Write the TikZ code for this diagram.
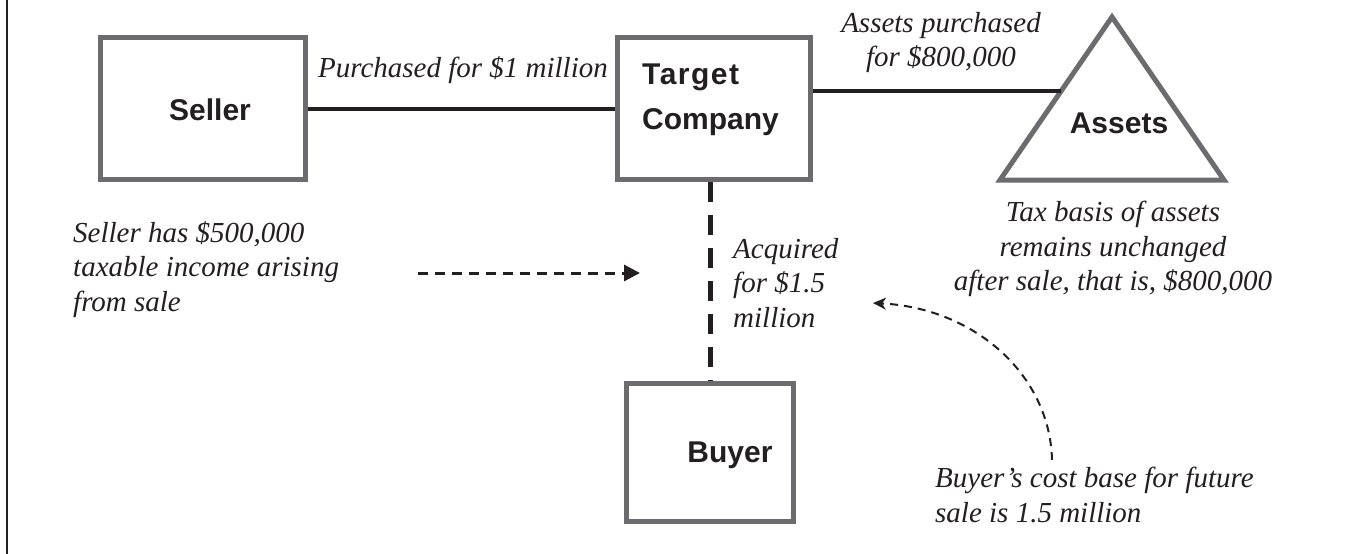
\documentclass[tikz,border=0pt]{standalone}
\usepackage{fontspec}
\setmainfont{Liberation Serif}
\setsansfont{Liberation Sans}
\usetikzlibrary{arrows.meta,calc}
\definecolor{boxgray}{RGB}{108,108,112}
\definecolor{ink}{RGB}{35,31,32}
\begin{document}
\begin{tikzpicture}[x=1pt,y=-1pt,
  box/.style={draw=boxgray,line width=5pt,rectangle,inner sep=0pt,fill=white},
  lbl/.style={font=\sffamily\bfseries\fontsize{30}{45}\selectfont,text=ink,inner sep=0pt},
  note/.style={font=\itshape\fontsize{29}{34.5}\selectfont,text=ink,inner sep=0pt},
  solidlink/.style={draw=ink,line width=4pt},
  buylink/.style={draw=ink,line width=5pt,dash pattern=on 20pt off 13pt},
  flowarrow/.style={draw=ink,line width=3pt,dash pattern=on 10pt off 7pt,-{Triangle[length=16pt,width=16pt]}},
  curvearrow/.style={draw=ink,line width=2pt,dash pattern=on 8pt off 6pt,-{Stealth[length=13pt,width=12pt,inset=4pt]}}
]
\useasboundingbox (0,0) rectangle (1349,554);
% frame line on the left
\coordinate (ftop) at (7,0);
\coordinate (fbot) at (7,554);
\draw[ink,line width=2pt] (ftop) -- (fbot);

% boxes
\node[box,minimum width=205pt,minimum height=142pt] (seller) at (203,108.5) {};
\node[box,minimum width=193pt,minimum height=142pt] (target) at (714,108.5) {};
\node[box,minimum width=167pt,minimum height=138pt] (buyer) at (710,452.5) {};

% triangle
\coordinate (apex) at (1112,17);
\coordinate (bl) at (1000,180);
\coordinate (br) at (1224,180);
\draw[draw=boxgray,line width=5pt,fill=white,line join=miter] (apex) -- (br) -- (bl) -- cycle;
\coordinate (ain) at ($(apex)!0.454!(bl)$);

% labels in shapes
\node[lbl,anchor=base] (sellerT) at (210,120) {Seller};
\node[lbl,anchor=north west,align=left] (targetT) at (642,64) {\addfontfeature{LetterSpace=5}Target\\Company};
\node[lbl,anchor=base] (buyerT) at (730,462) {Buyer};
\node[lbl,anchor=base] (assetsT) at (1119,133) {Assets};

% connectors
\draw[solidlink] (seller.east) -- (target.west);
\draw[solidlink] (target.east |- ain) -- (ain);
\draw[buylink] (target.south -| buyer.north) -- (buyer.north);

% notes
\node[note,anchor=base] (purch) at (463,77) {Purchased for \$1 million};
\node[note,anchor=north,align=center] (apurch) at (941,12) {Assets purchased\\for \$800,000};
\node[note,anchor=north,align=center] (taxb) at (1113,201) {Tax basis of assets\\remains unchanged\\after sale, that is, \$800,000};
\node[note,anchor=north west,align=left] (sgain) at (73,221) {Seller has \$500,000\\taxable income arising\\from sale};
\node[note,anchor=north west,align=left] (acq) at (733,238) {Acquired\\for \$1.5\\million};
\node[note,anchor=north west,align=left] (bcost) at (935,467) {Buyer’s cost base for future\\sale is 1.5 million};

% arrows
\coordinate (fa1) at (418,273);
\coordinate (fa2) at (640,273);
\draw[flowarrow] (fa1) -- (fa2);
\coordinate (ca1) at (1052,460);
\coordinate (ca2) at (873,303);
\draw[curvearrow] (ca1) .. controls (1050,375) and (975,308) .. (ca2);
\end{tikzpicture}
\end{document}
